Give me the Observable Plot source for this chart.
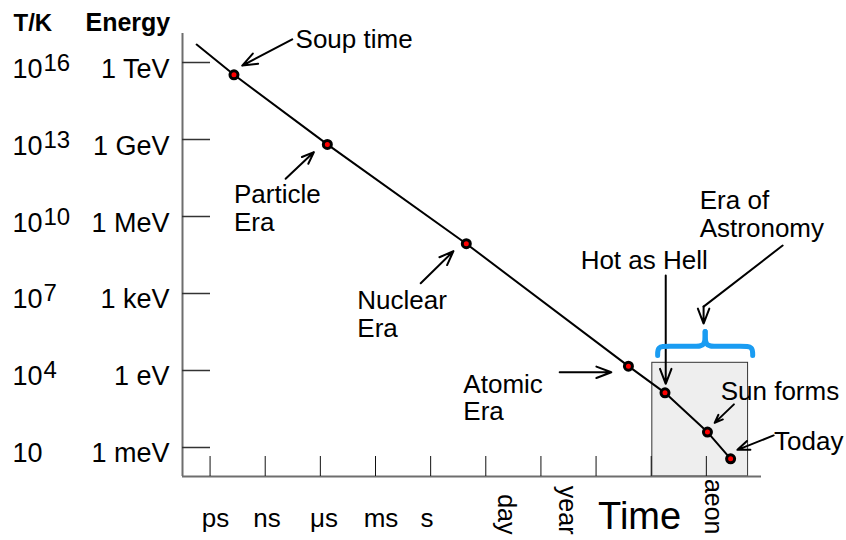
<!DOCTYPE html>
<html><head><meta charset="utf-8">
<script src="https://cdn.jsdelivr.net/npm/d3@7"></script>
<script src="https://cdn.jsdelivr.net/npm/@observablehq/plot@0.6"></script>
<style>body{margin:0;background:#fff} svg{display:block}</style>
</head><body><div id="chart"></div>
<script>
// Temperature axis (log10 T/K) and energy labels
const tempTicks = [16, 13, 10, 7, 4, 1];
const tempExponent = ["16", "13", "10", "7", "4", ""];
const energyLabels = ["1 TeV", "1 GeV", "1 MeV", "1 keV", "1 eV", "1 meV"];

// Time axis (log10 seconds)
const timeTicks = [-12, -9, -6, -3, 0, 3, 6, 9, 12, 15];
const flatUnits = ["ps", "ns", "μs", "ms", "s"];
const flatUnitPos = [-11.7, -8.9, -5.8, -2.7, -0.2];
const turnedUnits = ["day", "year", "aeon"];
const turnedUnitPos = [4.11, 7.44, 15.34];

// Cooling curve: log10 time (s) vs log10 temperature (K)
const curveTime = [-12.73, -10.70, -5.62, 1.94, 10.76, 12.75, 15.06, 16.32];
const curveTemp = [16.70, 15.52, 12.81, 8.94, 4.17, 3.13, 1.60, 0.56];

// Annotations (labels) in log time / log temperature
const noteText = ["Soup time", "Particle\nEra", "Nuclear\nEra", "Atomic\nEra", "Hot as Hell", "Sun forms", "Today", "Era of\nAstronomy"];
const noteTime = [-7.35, -10.70, -3.99, 1.78, 8.16, 15.78, 18.68, 14.64];
const noteTemp = [17.32, 11.28, 7.16, 3.91, 8.72, 3.62, 1.67, 11.07];

// Arrows
const arrowT1 = [-7.53, -7.89, -0.54, 7.02, 12.79, 16.50, 18.66];
const arrowK1 = [16.90, 11.47, 7.40, 3.93, 7.70, 2.68, 1.47];
const arrowT2 = [-10.25, -6.35, 1.24, 9.83, 12.79, 15.45, 16.69];
const arrowK2 = [15.88, 12.51, 8.65, 3.93, 3.48, 1.96, 0.91];
// elbow leading to the Era of Astronomy arrow
const elbowTime = [19.15, 14.85];
const elbowTemp = [8.87, 6.49];
const astroArrowTime = [14.85, 14.85];
const astroArrowTemp = [8.68, 5.83];

// Era of Astronomy box and brace
const boxTime = [12.06, 17.27];
const boxTemp = [-0.13, 4.30];
const braceTime = [12.35, 17.52];
const braceTemp = {end: 4.58, base: 4.94, tip: 5.52};

const xDomain = [-13.5, 18];
const yDomain = [-0.13, 17.13];

const curve = curveTime.map((t, i) => ({t, k: curveTemp[i]}));
const epochs = curve.slice(1);
const notes = noteText.map((text, i) => ({text, t: noteTime[i], k: noteTemp[i]}));
const arrows = arrowT1.map((t1, i) => ({t1, k1: arrowK1[i], t2: arrowT2[i], k2: arrowK2[i]}));
const astroArrow = [{t1: astroArrowTime[0], k1: astroArrowTemp[0], t2: astroArrowTime[1], k2: astroArrowTemp[1]}];
const elbow = elbowTime.map((t, i) => ({t, k: elbowTemp[i]}));
const yLabels = tempTicks.map((k, i) => ({k, exp: tempExponent[i], energy: energyLabels[i]}));
const flat = flatUnits.map((u, i) => ({u, t: flatUnitPos[i]}));
const turned = turnedUnits.map((u, i) => ({u, t: turnedUnitPos[i]}));
const box = [{x1: boxTime[0], x2: boxTime[1], y1: boxTemp[0], y2: boxTemp[1]}];

const [b1, b2] = braceTime, bm = (b1 + b2) / 2, e = 0.5;
const braceLeft = [[b1, braceTemp.end], [b1, braceTemp.base], [b1 + e, braceTemp.base], [bm - e, braceTemp.base], [bm, braceTemp.base], [bm, braceTemp.tip], [bm, braceTemp.tip]];
const braceRight = [[b2, braceTemp.end], [b2, braceTemp.base], [b2 - e, braceTemp.base], [bm + e, braceTemp.base], [bm, braceTemp.base], [bm, braceTemp.tip], [bm, braceTemp.tip]];

const font = "'Liberation Sans', Arial, Helvetica, sans-serif";
const arrowStyle = {stroke: "black", strokeWidth: 2, headLength: 12, headAngle: 42};

const chart = Plot.plot({
  width: 846,
  height: 540,
  marginLeft: 182,
  marginRight: 85,
  marginTop: 33,
  marginBottom: 64,
  x: {domain: xDomain, axis: null},
  y: {domain: yDomain, axis: null},
  style: {fontFamily: font, color: "black", background: "white"},
  marks: [
    Plot.rect(box, {x1: "x1", x2: "x2", y1: "y1", y2: "y2", fill: "#eeeeee", stroke: "#333", strokeWidth: 1}),
    Plot.ruleX([xDomain[0]], {stroke: "#6e6e6e", strokeWidth: 2}),
    Plot.ruleY([yDomain[0]], {stroke: "#6e6e6e", strokeWidth: 2}),
    Plot.ruleY(tempTicks, {insetRight: 551, stroke: "#333", strokeWidth: 1.5}),
    Plot.ruleX(timeTicks, {insetTop: 423, stroke: "#111", strokeWidth: 1}),
    Plot.line(curve, {x: "t", y: "k", stroke: "black", strokeWidth: 2}),
    Plot.line(elbow, {x: "t", y: "k", stroke: "black", strokeWidth: 2}),
    Plot.arrow(arrows, {x1: "t1", y1: "k1", x2: "t2", y2: "k2", ...arrowStyle}),
    Plot.arrow(astroArrow, {x1: "t1", y1: "k1", x2: "t2", y2: "k2", ...arrowStyle, insetStart: 56}),
    Plot.dot(epochs, {x: "t", y: "k", r: 4, fill: "red", stroke: "black", strokeWidth: 3}),
    Plot.line(braceLeft, {x: "0", y: "1", curve: "basis", stroke: "#1a9cf2", strokeWidth: 5}),
    Plot.line(braceRight, {x: "0", y: "1", curve: "basis", stroke: "#1a9cf2", strokeWidth: 5}),
    Plot.text(notes, {x: "t", y: "k", text: "text", textAnchor: "start", lineAnchor: "top", lineHeight: 1.07, fontSize: 26, fill: "black"}),
    // y tick labels
    Plot.text(yLabels, {y: "k", text: () => "10", frameAnchor: "left", textAnchor: "start", lineAnchor: "bottom", dx: -170, dy: 15, fontSize: 27}),
    Plot.text(yLabels, {y: "k", text: "exp", frameAnchor: "left", textAnchor: "start", lineAnchor: "bottom", dx: -139, dy: 8, fontSize: 24}),
    Plot.text(yLabels, {y: "k", text: "energy", frameAnchor: "left", textAnchor: "end", lineAnchor: "bottom", dx: -13, dy: 15, fontSize: 27}),
    Plot.text(["T/K"], {frameAnchor: "top-left", textAnchor: "start", lineAnchor: "bottom", dx: -169, dy: -3, fontSize: 24, fontWeight: "bold"}),
    Plot.text(["Energy"], {frameAnchor: "top-left", textAnchor: "start", lineAnchor: "bottom", dx: -97, dy: -3, fontSize: 25, fontWeight: "bold"}),
    // x tick labels
    Plot.text(flat, {x: "t", text: "u", frameAnchor: "bottom", textAnchor: "middle", lineAnchor: "bottom", dy: 50, fontSize: 26}),
    Plot.text(turned, {x: "t", text: "u", frameAnchor: "bottom", textAnchor: "end", lineAnchor: "middle", rotate: 90, dy: 58, fontSize: 25}),
    Plot.text(["Time"], {x: 11.37, frameAnchor: "bottom", textAnchor: "middle", lineAnchor: "bottom", dy: 52, fontSize: 38})
  ]
});
document.getElementById("chart").appendChild(chart);
</script>
</body></html>
